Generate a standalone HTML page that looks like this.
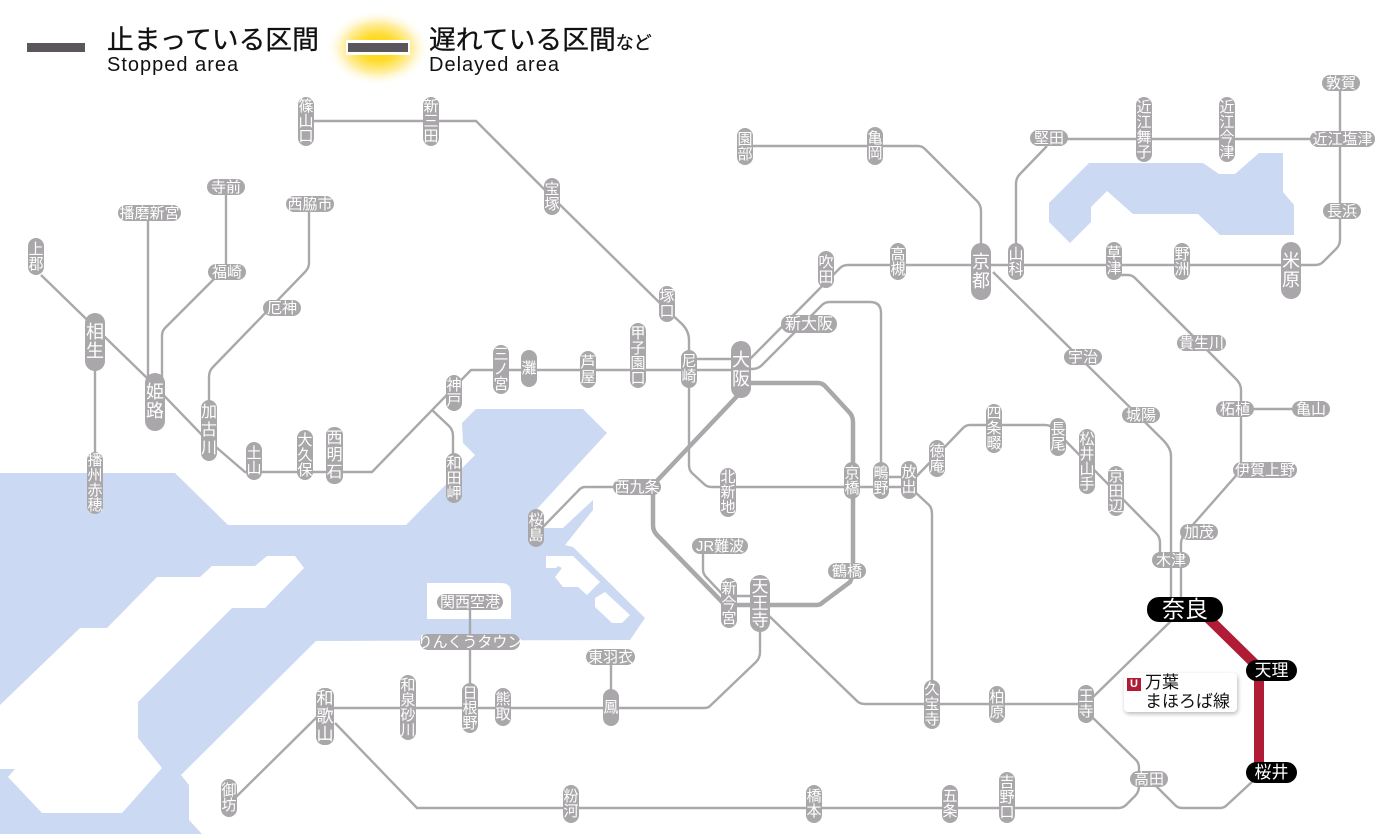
<!DOCTYPE html>
<html lang="ja"><head><meta charset="utf-8"><title>Network status</title>
<style>
html,body{margin:0;padding:0;background:#fff;width:1400px;height:834px;overflow:hidden}
body{position:relative;font-family:"Liberation Sans","Noto Sans CJK JP",sans-serif}
svg{position:absolute;left:0;top:0}
.s{position:absolute;background:#a9a7a9;color:#fff;display:flex;align-items:center;justify-content:center;text-align:center;font-size:15px;line-height:15px;border-radius:9px;white-space:nowrap}
.v{width:16px;border-radius:8px}
.h{height:16px;border-radius:8px}
.b{width:20px;border-radius:10px;font-size:18px;line-height:19px}
.k{background:#000;font-size:17px;border-radius:11px}
.t{position:absolute;white-space:nowrap;color:#111}
.j{font-size:26.8px;line-height:30px;-webkit-text-stroke:.3px #111}
.e{font-size:20px;line-height:22px;letter-spacing:1px}
</style></head><body>
<svg width="1400" height="834" viewBox="0 0 1400 834">
<defs><radialGradient id="g"><stop offset="0" stop-color="#ffd400"/><stop offset=".35" stop-color="#ffdc30"/><stop offset=".65" stop-color="#ffeea0"/><stop offset="1" stop-color="#fff" stop-opacity="0"/></radialGradient></defs>
<g fill="#ccd9f3">
<polygon points="0,473 175,473 228,525 406,525 475,455 463,443 462,423 476,409 583,409 607,433 536,510 543,528 563,528 580,512 593,500 593,510 565,545 573,547 645,618 630,640 316,641 181,775 189,785 189,820 202,834 0,834"/>
<polygon points="1089,163 1203,163 1219,174 1235,174 1259,153 1283,153 1283,192 1294,205 1294,235 1220,235 1198,214 1133,214 1107,191 1091,207 1091,222 1070,243 1049,222 1049,203"/>
</g>
<g fill="#fff">
<polygon points="0,705 80,628 107,628 157,577 200,577 212,566 255,566 267,556 295,556 304,568 265,608 232,608 138,702 138,738 162,768 122,813 42,813 8,777 15,769 0,769"/>
<polygon points="546,556 573,556 600,582 587,595 578,587 563,587 555,577 562,568 558,566 556,568 546,568"/>
<polygon points="605,592 630,615 622,623 612,623 595,607 595,598"/>
<path d="M427,583H501Q511,583 511,593V619H427Z"/>
</g>
<ellipse cx="378" cy="48" rx="52" ry="38" fill="url(#g)"/>
<rect x="27" y="43" width="58" height="9" fill="#5b565b"/>
<rect x="346" y="40" width="64" height="15" fill="#fff"/>
<rect x="348" y="43" width="60" height="9" fill="#5b565b"/>
<g fill="none" stroke="#a9a8aa" stroke-width="2.4">
<path d="M306,121H476L552,197L667,310L682,324Q689,331 689,340V465Q689,470 692,473L704,484Q707,487 712,487H909"/>
<path d="M741,370H471L372,472H245L202,435L147,378L41,275"/>
<path d="M432,410L449,426Q453,430 453,436V460"/>
<path d="M95,340V470M148,215V385M226,190V270"/>
<path d="M214,279L165,328Q162,331 162,336V380"/>
<path d="M309,208V263Q309,268 305,272L213,367Q209,371 209,377V405"/>
<path d="M749,360L840,268Q843,265 848,265H1315Q1320,265 1323,262L1336,249Q1340,245 1340,240V80"/>
<path d="M741,369H752Q758,369 762,365L822,305Q825,302 830,302H870Q881,302 881,313V470"/>
<path d="M689,359H741"/>
<path d="M640,487H585Q581,487 578,491L540,530"/>
<path d="M703,550V570Q703,574 707,578L724,596H760"/>
<path d="M760,630V652Q760,658 756,662L710,706Q708,708 704,708H325"/>
<path d="M470,600V690M611,660V690"/>
<path d="M236,797L318,716"/>
<path d="M335,723L417,808H1118Q1123,808 1126,805L1135,796Q1139,792 1139,786V768Q1139,763 1136,760L1090,715"/>
<path d="M1155,785L1175,805Q1178,808 1182,808H1220Q1224,808 1227,805L1254,780"/>
<path d="M1090,700L1172,620"/>
<path d="M1086,704H865Q860,704 857,701L765,612"/>
<path d="M993,272L1163,440Q1171,448 1171,456V600"/>
<path d="M913,480L963,428Q966,425 970,425H1045Q1050,425 1053,428L1156,533Q1160,537 1160,543V560"/>
<path d="M881,477H909M915,492L929,505Q932,508 932,514V690"/>
<path d="M1114,275H1128Q1132,275 1135,278L1236,379Q1241,384 1241,390V470L1190,528Q1181,536 1181,544V600"/>
<path d="M1252,409H1300"/>
<path d="M745,146H918Q922,146 925,149L977,201Q981,205 981,211V250"/>
<path d="M1047,146L1020,174Q1016,178 1016,184V250"/>
<path d="M1050,139H1340"/>
</g>
<path fill="none" stroke="#a9a8aa" stroke-width="4.5" d="M741,383H818Q822,383 825,386L849,412Q853,416 853,422V575L850,582L822,603Q820,605 816,605H725L657,535Q653,531 653,525V485L741,392"/>
<path fill="none" stroke="#b01c35" stroke-width="10" d="M1205,615L1259,668V770"/>
</svg>

<div class="t j" style="left:107px;top:25px">止まっている区間</div>
<div class="t e" style="left:107px;top:54px">Stopped area</div>
<div class="t j" style="left:429px;top:25px">遅れている区間<span style="font-size:18px">など</span></div>
<div class="t e" style="left:429px;top:54px">Delayed area</div>

<div style="position:absolute;left:1124px;top:673px;width:113px;height:39px;background:#fff;border-radius:4px;box-shadow:1px 2px 4px #bbb"></div>
<div style="position:absolute;left:1127px;top:678px;width:14px;height:13px;background:#b01c35;color:#fff;font:bold 11px/13px 'Liberation Sans',sans-serif;text-align:center">U</div>
<div class="t" style="left:1145px;top:673px;font-size:17px;line-height:19px">万葉<br>まほろば線</div>

<div class="s v" style="left:298px;top:97px;height:49px">篠<br>山<br>口</div>
<div class="s v" style="left:423px;top:97px;height:49px">新<br>三<br>田</div>
<div class="s v" style="left:544px;top:178px;height:37px">宝<br>塚</div>
<div class="s v" style="left:659px;top:286px;height:36px">塚<br>口</div>
<div class="s v" style="left:630px;top:323px;height:65px">甲<br>子<br>園<br>口</div>
<div class="s v" style="left:681px;top:350px;height:38px">尼<br>崎</div>
<div class="s b" style="left:731px;top:341px;height:57px">大<br>阪</div>
<div class="s v" style="left:493px;top:345px;height:49px">三<br>ノ<br>宮</div>
<div class="s v" style="left:521px;top:350px;height:37px">灘</div>
<div class="s v" style="left:580px;top:351px;height:37px">芦<br>屋</div>
<div class="s v" style="left:446px;top:375px;height:36px">神<br>戸</div>
<div class="s v" style="left:446px;top:453px;height:50px">和<br>田<br>岬</div>
<div class="s v" style="left:326px;top:427px;height:57px;width:17px;font-size:16px;line-height:17px">西<br>明<br>石</div>
<div class="s v" style="left:297px;top:430px;height:50px">大<br>久<br>保</div>
<div class="s v" style="left:246px;top:442px;height:38px">土<br>山</div>
<div class="s v" style="left:201px;top:400px;height:61px;font-size:16px;line-height:18px">加<br>古<br>川</div>
<div class="s b" style="left:145px;top:373px;height:58px">姫<br>路</div>
<div class="s b" style="left:85px;top:313px;height:58px">相<br>生</div>
<div class="s v" style="left:28px;top:238px;height:37px">上<br>郡</div>
<div class="s v" style="left:87px;top:452px;height:62px">播<br>州<br>赤<br>穂</div>
<div class="s v" style="left:528px;top:509px;height:38px">桜<br>島</div>
<div class="s h" style="left:613px;top:479px;width:48px">西九条</div>
<div class="s v" style="left:720px;top:468px;height:49px">北<br>新<br>地</div>
<div class="s v" style="left:844px;top:462px;height:37px">京<br>橋</div>
<div class="s v" style="left:873px;top:462px;height:37px">鴫<br>野</div>
<div class="s v" style="left:901px;top:461px;height:38px">放<br>出</div>
<div class="s v" style="left:929px;top:440px;height:37px">徳<br>庵</div>
<div class="s v" style="left:986px;top:404px;height:49px">四<br>条<br>畷</div>
<div class="s v" style="left:1050px;top:418px;height:38px">長<br>尾</div>
<div class="s v" style="left:1079px;top:429px;height:65px">松<br>井<br>山<br>手</div>
<div class="s v" style="left:1108px;top:466px;height:50px">京<br>田<br>辺</div>
<div class="s v" style="left:721px;top:578px;height:50px">新<br>今<br>宮</div>
<div class="s b" style="left:750px;top:575px;height:57px;line-height:17px;font-size:17px">天<br>王<br>寺</div>
<div class="s h" style="left:828px;top:563px;width:38px">鶴橋</div>
<div class="s h" style="left:692px;top:538px;width:56px">JR難波</div>
<div class="s h" style="left:437px;top:594px;width:66px">関西空港</div>
<div class="s h" style="left:420px;top:634px;width:100px">りんくうタウン</div>
<div class="s h" style="left:586px;top:649px;width:49px">東羽衣</div>
<div class="s v" style="left:603px;top:689px;height:37px">鳳</div>
<div class="s v" style="left:495px;top:688px;height:38px">熊<br>取</div>
<div class="s v" style="left:462px;top:683px;height:50px">日<br>根<br>野</div>
<div class="s v" style="left:400px;top:675px;height:65px">和<br>泉<br>砂<br>川</div>
<div class="s v" style="left:316px;top:688px;width:18px;height:57px;font-size:17px;line-height:18px">和<br>歌<br>山</div>
<div class="s v" style="left:221px;top:779px;height:38px">御<br>坊</div>
<div class="s v" style="left:563px;top:785px;height:38px">粉<br>河</div>
<div class="s v" style="left:806px;top:785px;height:38px">橋<br>本</div>
<div class="s v" style="left:942px;top:785px;height:38px">五<br>条</div>
<div class="s v" style="left:999px;top:772px;height:51px">吉<br>野<br>口</div>
<div class="s h" style="left:1130px;top:771px;width:38px">高田</div>
<div class="s v" style="left:1078px;top:685px;height:38px">王<br>寺</div>
<div class="s v" style="left:989px;top:686px;height:37px">柏<br>原</div>
<div class="s v" style="left:924px;top:680px;height:49px">久<br>宝<br>寺</div>
<div class="s k" style="left:1147px;top:597px;width:76px;height:25px;border-radius:12px;font-size:23px">奈良</div>
<div class="s k" style="left:1246px;top:660px;width:51px;height:21px">天理</div>
<div class="s k" style="left:1246px;top:762px;width:51px;height:21px">桜井</div>
<div class="s h" style="left:1152px;top:552px;width:38px">木津</div>
<div class="s h" style="left:1180px;top:524px;width:38px">加茂</div>
<div class="s h" style="left:1233px;top:462px;width:64px">伊賀上野</div>
<div class="s h" style="left:1216px;top:401px;width:38px">柘植</div>
<div class="s h" style="left:1292px;top:401px;width:38px">亀山</div>
<div class="s h" style="left:1122px;top:407px;width:38px">城陽</div>
<div class="s h" style="left:1064px;top:349px;width:38px">宇治</div>
<div class="s h" style="left:1177px;top:335px;width:49px">貴生川</div>
<div class="s v" style="left:1106px;top:242px;height:38px">草<br>津</div>
<div class="s v" style="left:1174px;top:243px;height:37px">野<br>洲</div>
<div class="s b" style="left:1281px;top:242px;height:57px">米<br>原</div>
<div class="s v" style="left:1008px;top:243px;height:37px">山<br>科</div>
<div class="s b" style="left:971px;top:243px;height:57px">京<br>都</div>
<div class="s v" style="left:890px;top:243px;height:37px">高<br>槻</div>
<div class="s v" style="left:818px;top:251px;height:37px">吹<br>田</div>
<div class="s h" style="left:781px;top:315px;width:56px;height:18px;border-radius:9px;font-size:16px">新大阪</div>
<div class="s v" style="left:737px;top:128px;height:37px">園<br>部</div>
<div class="s v" style="left:867px;top:127px;height:38px">亀<br>岡</div>
<div class="s h" style="left:1030px;top:130px;width:38px">堅田</div>
<div class="s v" style="left:1136px;top:97px;height:65px">近<br>江<br>舞<br>子</div>
<div class="s v" style="left:1219px;top:97px;height:65px">近<br>江<br>今<br>津</div>
<div class="s h" style="left:1322px;top:75px;width:38px">敦賀</div>
<div class="s h" style="left:1310px;top:131px;width:65px">近江塩津</div>
<div class="s h" style="left:1323px;top:203px;width:38px">長浜</div>
<div class="s h" style="left:118px;top:205px;width:63px">播磨新宮</div>
<div class="s h" style="left:207px;top:179px;width:38px">寺前</div>
<div class="s h" style="left:286px;top:196px;width:48px">西脇市</div>
<div class="s h" style="left:208px;top:264px;width:38px">福崎</div>
<div class="s h" style="left:263px;top:300px;width:38px">厄神</div>
</body></html>
